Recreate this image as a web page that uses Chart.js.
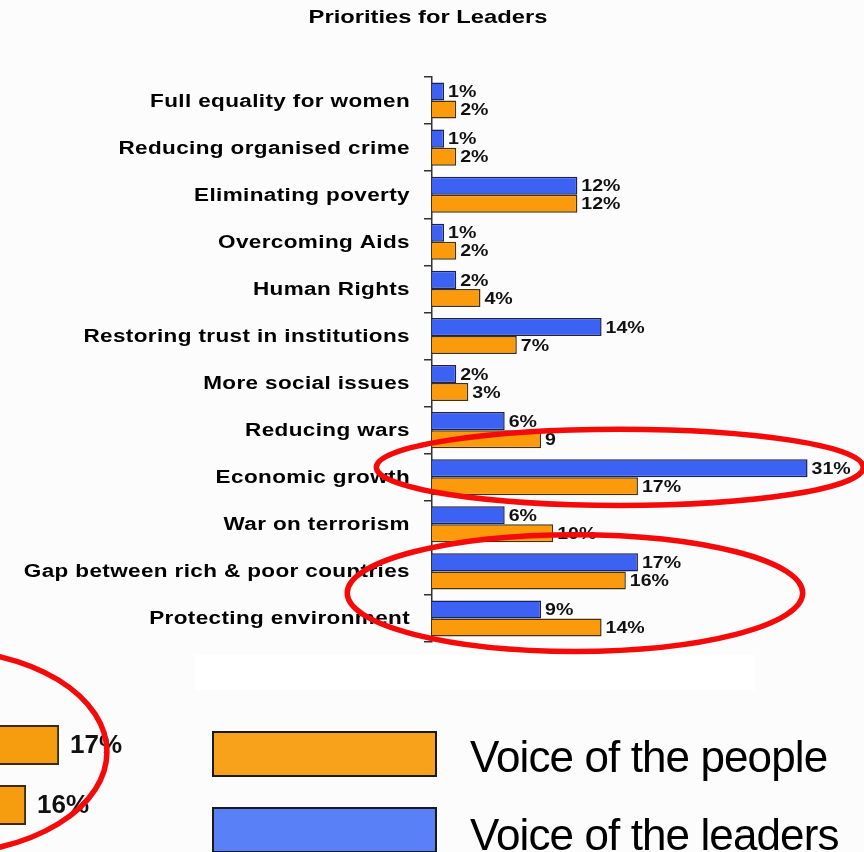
<!DOCTYPE html>
<html>
<head>
<meta charset="utf-8">
<title>Priorities for Leaders</title>
<script src="https://cdn.jsdelivr.net/npm/chart.js@4/dist/chart.umd.min.js"></script>
<style>
  html, body { margin: 0; padding: 0; }
  body { width: 864px; height: 852px; position: relative; overflow: hidden; background: #fbfcfb; font-family: Arial, "Liberation Sans", sans-serif; }
  canvas { position: absolute; }
  #main-chart { left: 0; top: 0; }
  #zoom-chart { left: 0; top: 640px; }
  .blank-strip { position: absolute; left: 195px; top: 655px; width: 560px; height: 35px; background: #fff; }
  .legend-box { position: absolute; left: 212px; width: 221px; height: 42px; border: 2px solid #1a1a1a; }
  .legend-text { position: absolute; left: 470px; font-size: 44px; line-height: 44px; letter-spacing: -0.9px; color: #000; white-space: nowrap; }
</style>
</head>
<body>
<div class="blank-strip"></div>
<canvas id="zoom-chart" width="200" height="212"></canvas>
<canvas id="main-chart" width="864" height="852"></canvas>
<div id="legend"></div>

<script>
// Survey results, top to bottom
const categories = [
  'Full equality for women',
  'Reducing organised crime',
  'Eliminating poverty',
  'Overcoming Aids',
  'Human Rights',
  'Restoring trust in institutions',
  'More social issues',
  'Reducing wars',
  'Economic growth',
  'War on terrorism',
  'Gap between rich & poor countries',
  'Protecting environment'
];
const leaders = [1, 1, 12, 1, 2, 14, 2, 6, 31, 6, 17, 9];
const people = [2, 2, 12, 2, 4, 7, 3, 9, 17, 10, 16, 14];
// the "Reducing wars" people bar is labelled without a percent sign
const peopleBare = [7];

// enlarged cut-out of two people bars
const zoomCategories = ['Economic growth', 'Gap between rich & poor countries'];
const zoomPeople = [17, 16];

const chartTitle = 'Priorities for Leaders';

const legendItems = [
  { text: 'Voice of the people', color: '#f8a21c' },
  { text: 'Voice of the leaders', color: '#5a80f8' }
];

const BLUE = '#3b62f2';
const ORANGE = '#fb9b0b';
const FONT = 'Arial, "Liberation Sans", sans-serif';

function pctLabels(values, bare) {
  return values.map((v, i) => (bare && bare.includes(i)) ? String(v) : v + '%');
}
const leaderLabels = pctLabels(leaders);
const peopleLabels = pctLabels(people, peopleBare);

// Red rings, in data units: x in %, y in category index
const mainRings = [
  { x: 15.5, y: 7.79, rx: 20.1, ry: 0.81 },
  { x: 11.8, y: 10.46, rx: 18.8, ry: 1.24 }
];
const zoomRings = [
  { x: 13.39, y: 0.115, rx: 5.06, ry: 1.7 }
];

// The printed chart uses wide lettering, so text is drawn stretched sideways
function wideText(ctx, text, x, y, align, stretch) {
  ctx.save();
  ctx.translate(x, y);
  ctx.scale(stretch, 1);
  ctx.textAlign = align;
  ctx.fillText(text, 0, 0);
  ctx.restore();
}

function drawRings(chart, rings) {
  const { ctx, scales: { x, y } } = chart;
  const pxX = x.getPixelForValue(1) - x.getPixelForValue(0);
  const pxY = y.getPixelForValue(1) - y.getPixelForValue(0);
  ctx.save();
  ctx.strokeStyle = '#f50a0a';
  ctx.lineWidth = 5.5;
  rings.forEach(r => {
    ctx.beginPath();
    ctx.ellipse(x.getPixelForValue(r.x), y.getPixelForValue(r.y), r.rx * pxX, r.ry * pxY, 0, 0, Math.PI * 2);
    ctx.stroke();
  });
  ctx.restore();
}

// Value text just past the end of every bar
function drawValueLabels(chart, labelSets, font, gap, stretch) {
  const ctx = chart.ctx;
  ctx.save();
  ctx.font = font;
  ctx.fillStyle = '#111';
  ctx.textBaseline = 'middle';
  chart.data.datasets.forEach((ds, di) => {
    chart.getDatasetMeta(di).data.forEach((bar, i) => {
      wideText(ctx, labelSets[di][i], bar.x + gap, bar.y + 1, 'left', stretch);
    });
  });
  ctx.restore();
}

const mainPlugin = {
  id: 'mainDecor',
  afterDatasetsDraw(chart) {
    const { ctx, scales: { y } } = chart;
    ctx.save();
    ctx.fillStyle = '#000';
    ctx.textBaseline = 'middle';

    // title, centred over the whole canvas
    ctx.font = 'bold 19px ' + FONT;
    wideText(ctx, chartTitle, chart.width / 2 - 4, 18, 'center', 1.25);

    // category names right-aligned against the tick marks
    ctx.font = 'bold 18px ' + FONT;
    ctx.letterSpacing = '0.3px';
    const right = y.right - y.options.grid.tickLength - 14;
    categories.forEach((c, i) => {
      wideText(ctx, c, right, y.getPixelForTick(i) + 1, 'right', 1.25);
    });
    ctx.restore();

    drawValueLabels(chart, [leaderLabels, peopleLabels], 'bold 17px ' + FONT, 4, 1.15);
  },
  afterDraw(chart) {
    drawRings(chart, mainRings);
  }
};

new Chart(document.getElementById('main-chart'), {
  type: 'bar',
  data: {
    labels: categories,
    datasets: [
      {
        label: 'Voice of the leaders',
        data: leaders,
        backgroundColor: BLUE,
        borderColor: '#1d1f55',
        borderWidth: 1.5,
        categoryPercentage: 0.765,
        barPercentage: 1
      },
      {
        label: 'Voice of the people',
        data: people,
        backgroundColor: ORANGE,
        borderColor: '#45300f',
        borderWidth: 1.5,
        categoryPercentage: 0.765,
        barPercentage: 1
      }
    ]
  },
  options: {
    indexAxis: 'y',
    responsive: false,
    animation: false,
    layout: { padding: { top: 77, right: 8, bottom: 210, left: 0 } },
    plugins: {
      legend: { display: false },
      tooltip: { enabled: false },
      title: { display: false }
    },
    scales: {
      x: { display: false, min: 0, max: 35 },
      y: {
        grid: { offset: true, drawOnChartArea: false, drawTicks: true, tickLength: 8, color: '#333', lineWidth: 1.5 },
        border: { display: true, color: '#333', width: 1.5 },
        ticks: { display: false, autoSkip: false },
        afterFit(scale) { scale.width = 432; }
      }
    }
  },
  plugins: [mainPlugin]
});

// Enlarged cut-out in the lower left corner
const zoomPlugin = {
  id: 'zoomDecor',
  afterDatasetsDraw(chart) {
    drawValueLabels(chart, [pctLabels(zoomPeople)], 'bold 26px ' + FONT, 11, 1);
  },
  afterDraw(chart) {
    drawRings(chart, zoomRings);
  }
};

new Chart(document.getElementById('zoom-chart'), {
  type: 'bar',
  data: {
    labels: zoomCategories,
    datasets: [{
      data: zoomPeople,
      backgroundColor: '#f59d0e',
      borderColor: '#3a2a10',
      borderWidth: 2,
      categoryPercentage: 0.667,
      barPercentage: 1
    }]
  },
  options: {
    indexAxis: 'y',
    responsive: false,
    animation: false,
    layout: { padding: { top: 75, bottom: 17, left: 0, right: 0 } },
    plugins: { legend: { display: false }, tooltip: { enabled: false } },
    scales: {
      x: { display: false, min: 15.21, max: 21.27 },
      y: { display: false }
    }
  },
  plugins: [zoomPlugin]
});

// Legend with large swatches
const legend = document.getElementById('legend');
legendItems.forEach((item, i) => {
  const box = document.createElement('div');
  box.className = 'legend-box';
  box.style.top = (731 + i * 76) + 'px';
  box.style.background = item.color;
  legend.appendChild(box);

  const txt = document.createElement('div');
  txt.className = 'legend-text';
  txt.style.top = (735 + i * 78) + 'px';
  txt.textContent = item.text;
  legend.appendChild(txt);
});
</script>
</body>
</html>
